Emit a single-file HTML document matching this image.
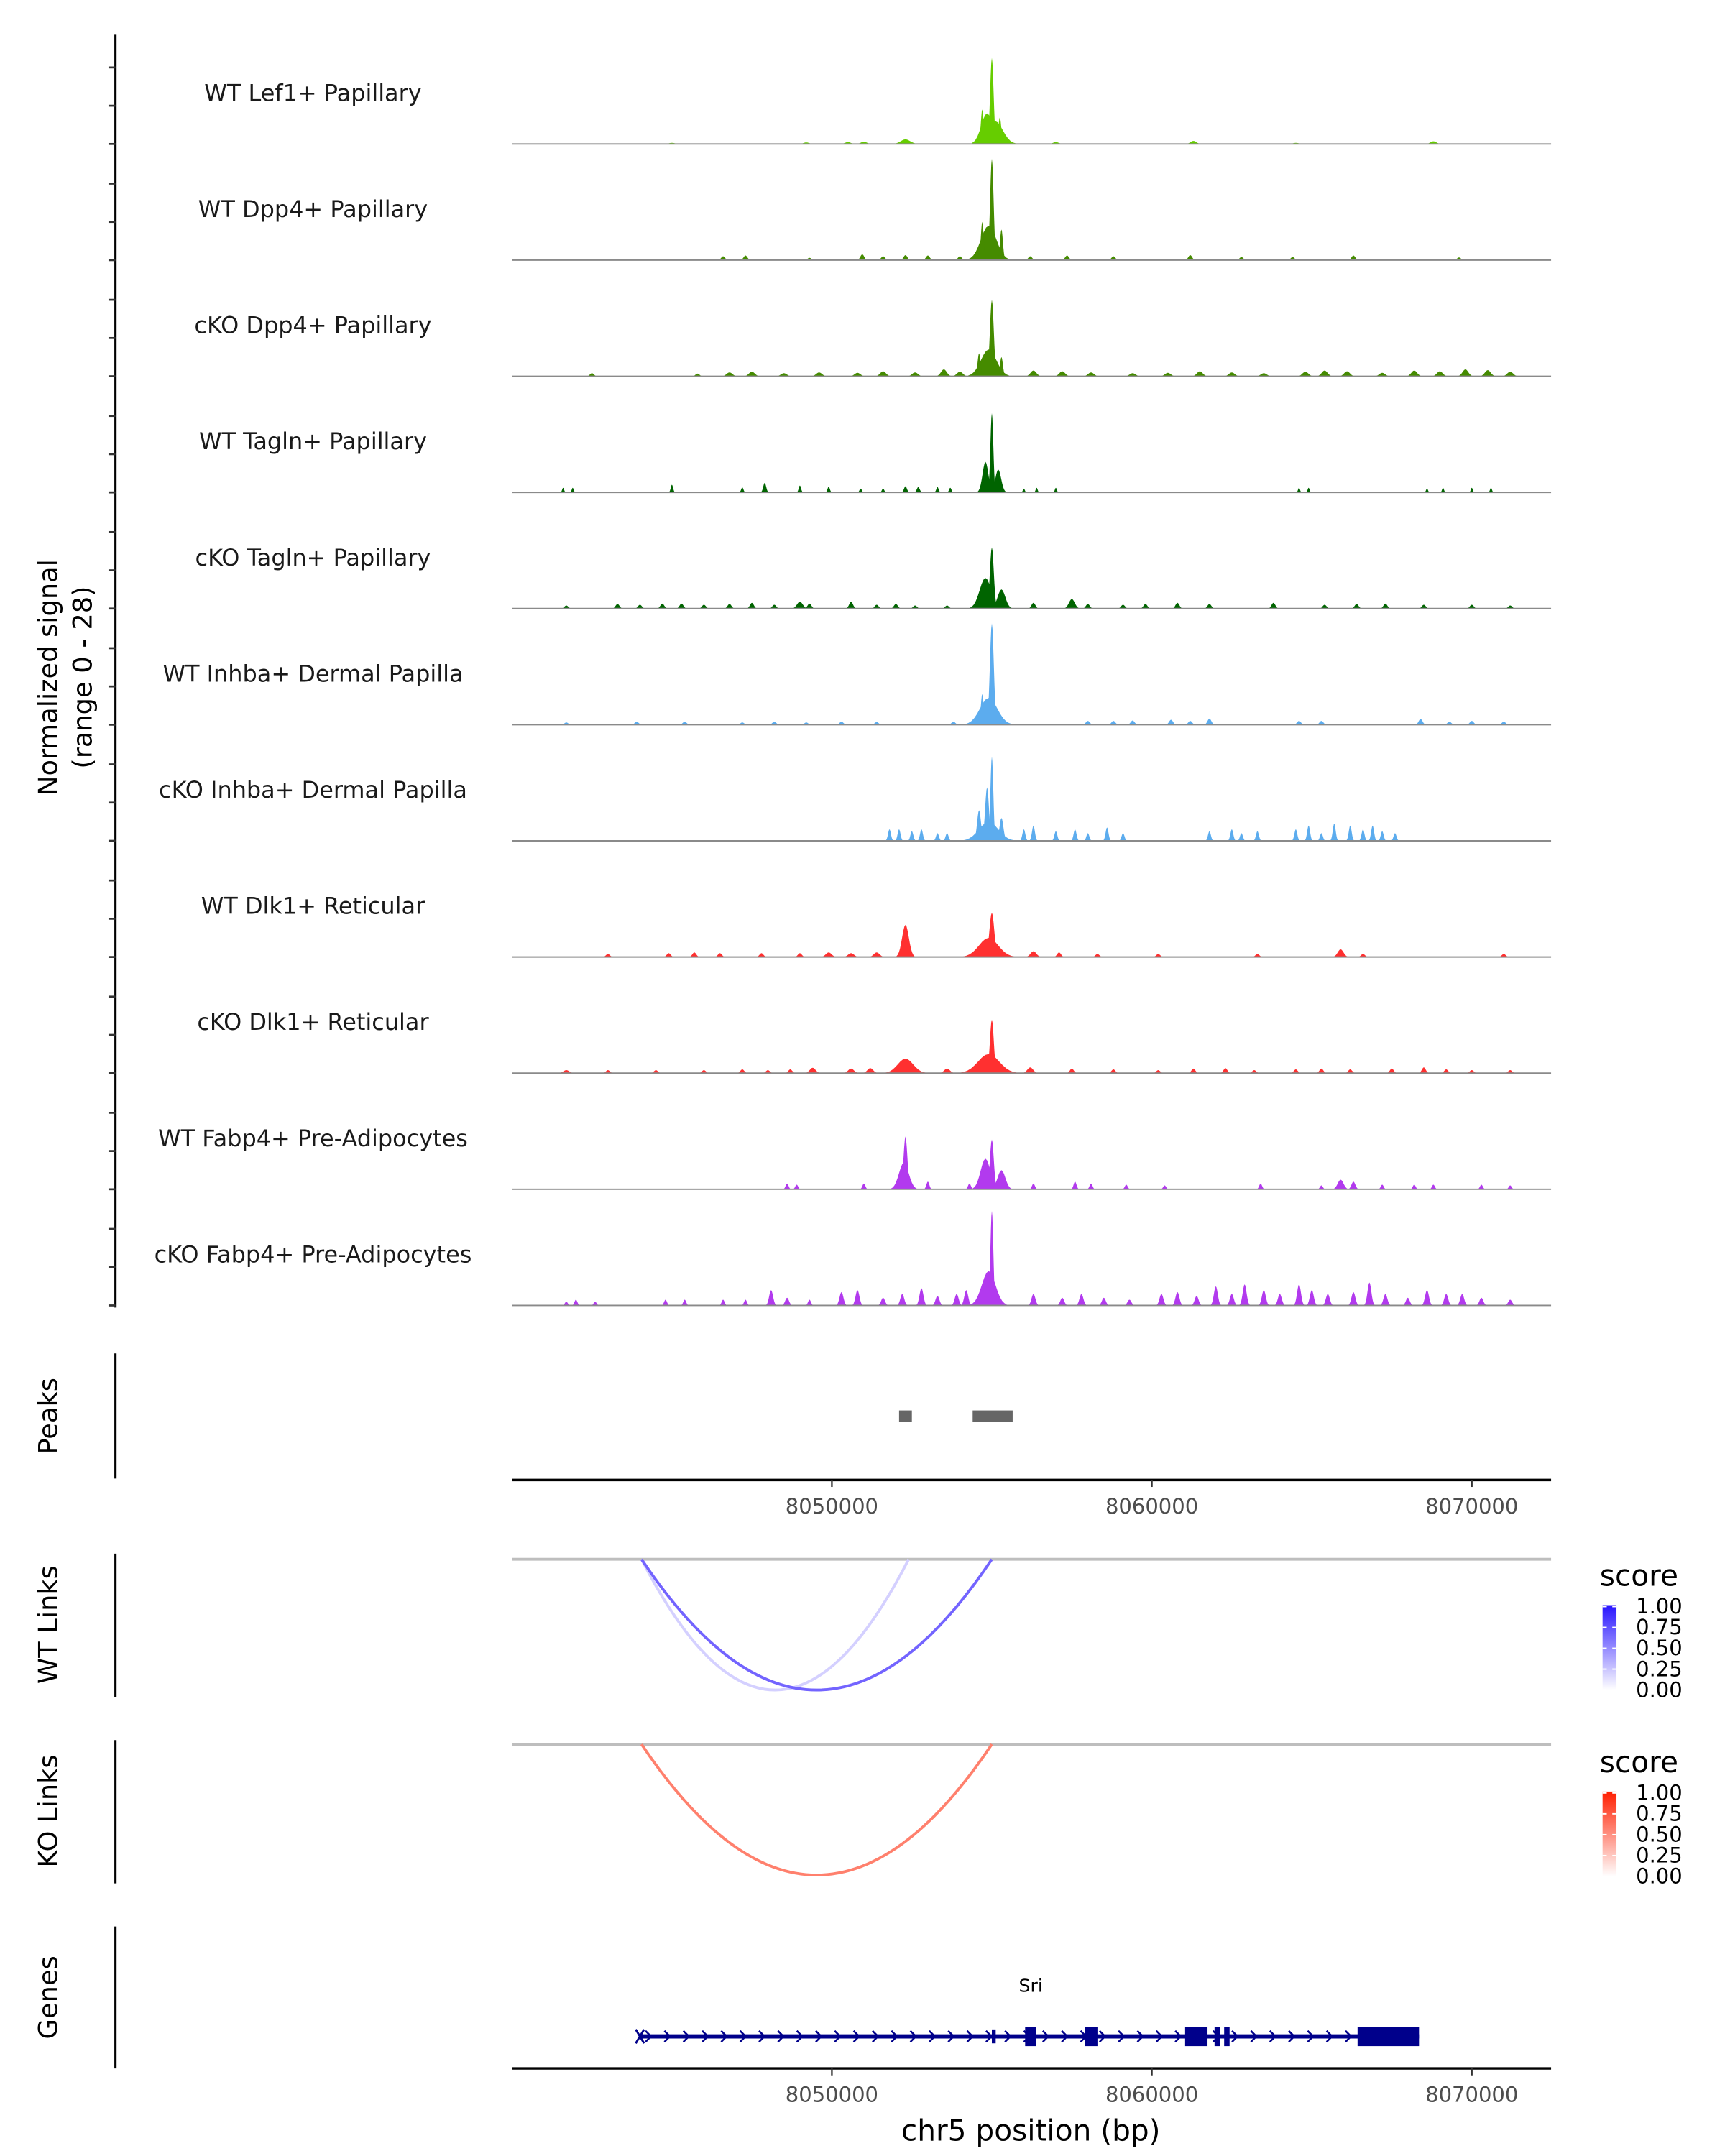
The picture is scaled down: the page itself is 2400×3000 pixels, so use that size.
<!DOCTYPE html>
<html><head><meta charset="utf-8">
<style>
html,body{margin:0;padding:0;background:#fff;}
svg{display:block;font-family:"DejaVu Sans","Liberation Sans",sans-serif;}
</style></head>
<body>
<svg id="chart" width="2400" height="3000" viewBox="0 0 1240 1550" xmlns="http://www.w3.org/2000/svg">
<rect width="1240" height="1550" fill="#fff"/>
</svg>
<script>
// ---------- data ----------
const trackNames = ["WT Lef1+ Papillary","WT Dpp4+ Papillary","cKO Dpp4+ Papillary","WT Tagln+ Papillary","cKO Tagln+ Papillary","WT Inhba+ Dermal Papilla","cKO Inhba+ Dermal Papilla","WT Dlk1+ Reticular","cKO Dlk1+ Reticular","WT Fabp4+ Pre-Adipocytes","cKO Fabp4+ Pre-Adipocytes"];
const trackColors = ["#66CD00","#458B00","#458B00","#006400","#006400","#5CACEE","#5CACEE","#FF3030","#FF3030","#B23AEE","#B23AEE"];
// peaks per track: [position kb (absolute /1000), height (signal units), width kb]
const sig0 = [[8055.0,22.5,0.18],[8054.85,8,0.6],[8055.1,6,0.8],[8054.7,9,0.15],[8055.25,7,0.15],[8052.3,1.2,0.5],[8051.0,0.6,0.3],[8061.3,0.8,0.3],[8068.8,0.7,0.3],[8049.2,0.4,0.3],[8050.5,0.5,0.3],[8057.0,0.5,0.3],[8045.0,0.3,0.3],[8064.5,0.3,0.3]];
const sig1 = [[8055.0,26.5,0.18],[8054.9,9,0.8],[8054.7,10,0.15],[8055.3,8,0.15],[8046.6,1,0.2],[8047.3,1.2,0.2],[8050.95,1.5,0.2],[8051.6,1,0.2],[8052.3,1.3,0.2],[8053.0,1.2,0.2],[8054.0,1,0.2],[8056.2,1,0.2],[8057.35,1.2,0.2],[8058.8,1,0.2],[8061.2,1.3,0.2],[8062.8,0.8,0.2],[8064.4,0.8,0.2],[8066.3,1.2,0.2],[8069.6,0.7,0.2],[8049.3,0.6,0.2]];
const sig2 = [[8055.0,20,0.2],[8054.9,7,0.8],[8054.6,6,0.15],[8055.3,5,0.15],[8042.5,0.8,0.2],[8045.8,0.7,0.2],[8046.8,1,0.3],[8047.5,1.2,0.3],[8048.5,0.8,0.3],[8049.6,1,0.3],[8050.8,0.9,0.3],[8051.6,1.3,0.3],[8052.6,1,0.3],[8053.5,1.8,0.3],[8054.0,1.2,0.3],[8056.3,1.5,0.3],[8057.2,1.3,0.3],[8058.1,1,0.3],[8059.4,0.8,0.3],[8060.5,0.9,0.3],[8061.5,1.3,0.3],[8062.5,1,0.3],[8063.5,0.8,0.3],[8064.8,1.2,0.3],[8065.4,1.5,0.3],[8066.1,1.3,0.3],[8067.2,0.9,0.3],[8068.2,1.5,0.3],[8069.0,1.3,0.3],[8069.8,1.8,0.3],[8070.5,1.6,0.3],[8071.2,1.2,0.3]];
const sig3 = [[8055.0,20.7,0.15],[8054.8,8,0.3],[8055.2,6,0.3],[8041.6,1.2,0.1],[8041.9,1.2,0.1],[8045.0,2,0.12],[8047.2,1.3,0.12],[8047.9,2.5,0.15],[8049.0,1.8,0.12],[8049.9,1.5,0.12],[8050.9,1,0.12],[8051.6,1,0.12],[8052.3,1.6,0.15],[8052.7,1.4,0.15],[8053.3,1.4,0.12],[8053.7,1.2,0.12],[8056.0,1,0.1],[8056.4,1.2,0.1],[8057.0,1.2,0.1],[8064.6,1.2,0.1],[8064.9,1.2,0.1],[8068.6,1,0.1],[8069.1,1.2,0.1],[8070.0,1.2,0.1],[8070.6,1.2,0.1]];
const sig4 = [[8055.0,16,0.2],[8054.8,8,0.6],[8055.3,5,0.4],[8041.7,0.8,0.2],[8043.3,1.2,0.2],[8044.0,1,0.2],[8044.7,1.3,0.2],[8045.3,1.3,0.2],[8046.0,1,0.2],[8046.8,1.2,0.2],[8047.5,1.5,0.2],[8048.2,1,0.2],[8049.0,1.8,0.3],[8049.3,1.3,0.2],[8050.6,1.8,0.2],[8051.4,1,0.2],[8052.0,1.2,0.2],[8052.6,0.8,0.2],[8053.6,0.8,0.2],[8056.3,1.5,0.2],[8057.5,2.5,0.3],[8058.0,1.2,0.2],[8059.1,1,0.2],[8059.8,1.2,0.2],[8060.8,1.5,0.2],[8061.8,1.2,0.2],[8063.8,1.5,0.2],[8065.4,1,0.2],[8066.4,1.2,0.2],[8067.3,1.3,0.2],[8068.5,1,0.2],[8070.0,1,0.2],[8071.2,0.8,0.2]];
const sig5 = [[8055.0,26.5,0.2],[8054.9,7,0.9],[8054.7,8,0.15],[8041.7,0.6,0.2],[8043.9,0.8,0.2],[8045.4,0.8,0.2],[8047.2,0.6,0.2],[8048.2,0.8,0.2],[8049.2,0.6,0.2],[8050.3,0.8,0.2],[8051.4,0.7,0.2],[8053.8,0.8,0.2],[8058.0,1,0.2],[8058.8,1,0.2],[8059.4,1.1,0.2],[8060.6,1.3,0.2],[8061.2,1,0.2],[8061.8,1.6,0.2],[8064.6,1,0.2],[8065.3,1,0.2],[8068.4,1.5,0.2],[8069.3,0.8,0.2],[8070.0,1,0.2],[8071.0,0.8,0.2]];
const sig6 = [[8055.0,22,0.15],[8054.85,14,0.2],[8054.6,8,0.2],[8055.3,6,0.2],[8054.9,5,1.0],[8051.8,3,0.15],[8052.1,3,0.15],[8052.5,2.5,0.15],[8052.8,3,0.15],[8053.3,2,0.15],[8053.6,2,0.15],[8056.0,3,0.15],[8056.3,4,0.15],[8057.0,2.5,0.15],[8057.6,3,0.15],[8058.0,2,0.15],[8058.6,3.5,0.15],[8059.1,2,0.15],[8061.8,2.5,0.15],[8062.5,3,0.15],[8062.8,2,0.15],[8063.3,2.5,0.15],[8064.5,3,0.15],[8064.9,4,0.15],[8065.3,2,0.15],[8065.7,4.5,0.15],[8066.2,4,0.15],[8066.6,3,0.15],[8066.9,4,0.15],[8067.2,2.5,0.15],[8067.6,2,0.15]];
const sig7 = [[8052.3,8.4,0.35],[8055.0,11.6,0.25],[8054.9,5,1.0],[8043.0,0.8,0.2],[8044.9,1,0.2],[8045.7,1.2,0.2],[8046.5,1,0.2],[8047.8,1,0.2],[8049.0,1,0.2],[8049.9,1.2,0.3],[8050.6,1,0.3],[8051.4,1.2,0.3],[8056.3,1.5,0.3],[8057.1,1.2,0.2],[8058.3,0.8,0.2],[8060.2,0.8,0.2],[8063.3,0.8,0.2],[8065.9,2,0.3],[8066.6,0.8,0.2],[8071.0,0.8,0.2]];
const sig8 = [[8055.0,14,0.2],[8054.9,5,1.1],[8052.3,3.8,0.8],[8041.7,0.8,0.3],[8043.0,0.8,0.2],[8044.5,0.8,0.2],[8046.0,0.8,0.2],[8047.2,1,0.2],[8048.0,0.8,0.2],[8048.7,1,0.2],[8049.4,1.4,0.3],[8050.6,1.2,0.3],[8051.2,1.3,0.3],[8053.6,1.2,0.3],[8056.2,1.5,0.3],[8057.5,1.2,0.2],[8058.8,1,0.2],[8060.2,0.8,0.2],[8061.3,1.2,0.2],[8062.3,1.3,0.2],[8063.2,0.8,0.2],[8064.5,1,0.2],[8065.3,1.2,0.2],[8066.2,1,0.2],[8067.5,1.2,0.2],[8068.5,1.5,0.2],[8069.2,1,0.2],[8070.0,0.8,0.2],[8071.2,0.8,0.2]];
const sig9 = [[8052.3,13.8,0.2],[8052.25,7,0.5],[8055.0,13,0.2],[8054.8,8,0.5],[8055.3,5,0.4],[8048.6,1.5,0.15],[8048.9,1.2,0.15],[8051.0,1.5,0.15],[8053.0,2,0.15],[8054.3,1.5,0.15],[8056.3,1.5,0.15],[8057.6,2,0.15],[8058.1,1.5,0.15],[8059.2,1.2,0.15],[8060.4,1,0.15],[8063.4,1.5,0.15],[8065.3,1,0.15],[8065.9,2.5,0.3],[8066.3,2,0.2],[8067.2,1.2,0.15],[8068.2,1.2,0.15],[8068.8,1.2,0.15],[8070.3,1.2,0.15],[8071.2,1,0.15]];
const sig10 = [[8055.0,24.7,0.15],[8054.9,9,0.7],[8041.7,1,0.15],[8042.0,1.5,0.15],[8042.6,1,0.15],[8044.8,1.5,0.15],[8045.4,1.5,0.15],[8046.6,1.5,0.15],[8047.3,1.5,0.15],[8048.1,4,0.2],[8048.6,2,0.2],[8049.3,1.5,0.15],[8050.3,3.5,0.2],[8050.8,4,0.2],[8051.6,2,0.2],[8052.2,3,0.2],[8052.8,4.5,0.2],[8053.3,2.5,0.2],[8053.9,3,0.2],[8054.2,4,0.2],[8056.3,3,0.2],[8057.2,2,0.2],[8057.8,3,0.2],[8058.5,2,0.2],[8059.3,1.5,0.2],[8060.3,3,0.2],[8060.8,3.5,0.2],[8061.4,2.5,0.2],[8062.0,5,0.2],[8062.5,3,0.2],[8062.9,5.5,0.2],[8063.5,4,0.2],[8064.0,3,0.2],[8064.6,5.5,0.2],[8065.0,4,0.2],[8065.5,3,0.2],[8066.3,3.5,0.2],[8066.8,6,0.2],[8067.3,3,0.2],[8068.0,2,0.2],[8068.6,4,0.2],[8069.2,3,0.2],[8069.7,3,0.2],[8070.3,2,0.2],[8071.2,1.5,0.2]];
const signals = [sig0,sig1,sig2,sig3,sig4,sig5,sig6,sig7,sig8,sig9,sig10];
const axisTicks = [8050000,8060000,8070000];
const axisTickLabels = ["8050000","8060000","8070000"];
const peakRegions = [[8052100,8052500],[8054400,8055650]];
const wtLinkStart = [8044050,8044050];
const wtLinkEnd = [8052400,8055000];
const wtLinkScore = [0.22,0.72];
const koLinkStart = [8044050];
const koLinkEnd = [8055000];
const koLinkScore = [0.62];
const geneStart = 8044000, geneEnd = 8068350;
const exonStart = [8055000,8056040,8057910,8061040,8061960,8062260,8066430];
const exonEnd   = [8055120,8056390,8058300,8061740,8062130,8062430,8068350];
const exonThick = [0,1,1,1,1,1,1];
const legendTicks = [1.00,0.75,0.50,0.25,0.00];

// ---------- drawing ----------
const NS="http://www.w3.org/2000/svg";
const svg=document.getElementById('chart');
function el(tag,attrs,parent){const e=document.createElementNS(NS,tag);for(const k in attrs)e.setAttribute(k,attrs[k]);(parent||svg).appendChild(e);return e;}
const X0=368,X1=1115,G0=8040000,PXKB=23;
function xs(bp){return X0+(bp-G0)/1000*PXKB;}
const BASE0=103.5,TRK=83.5,YSCALE=77/28;
function ys(v,base){return base-v*YSCALE;}

const la=el('line',{x1:83,y1:25,x2:83,y2:940,stroke:'#000','stroke-width':1.6});


for(let t=0;t<trackNames.length;t++){
  const base=BASE0+t*TRK;
  [0,10,20].forEach(v=>{
    const tk=el('line',{x1:78,x2:83,y1:ys(v,base),y2:ys(v,base),stroke:'#333','stroke-width':1.4});
    
    
  });
}
const yt=el('text',{transform:'translate(41,487) rotate(-90)','text-anchor':'middle','font-size':19,fill:'#000'});
yt.textContent='Normalized signal';


const yt2=el('text',{transform:'translate(66,487) rotate(-90)','text-anchor':'middle','font-size':19,fill:'#000'});
yt2.textContent='(range 0 - 28)';



function bumpPath(p,h,w,base){
  const half=w*1000/2;
  let d='M'+xs(p*1000-half*1.6)+','+base;
  for(let i=-8;i<=8;i++){
    const off=i/8*half*1.6;
    const v=h*Math.exp(-Math.pow(off/(half*0.6),2)/2);
    d+=' L'+xs(p*1000+off).toFixed(2)+','+ys(v,base).toFixed(2);
  }
  d+=' L'+xs(p*1000+half*1.6)+','+base+' Z';
  return d;
}
for(let t=0;t<trackNames.length;t++){
  const base=BASE0+t*TRK;
  const g=el('g',{});
  
  
  const lbl=el('text',{x:225,y:base-31,'text-anchor':'middle','font-size':16.5,fill:'#1a1a1a'},g);
  lbl.textContent=trackNames[t];
  
  
  signals[t].forEach(s=>{
    const p=el('path',{d:bumpPath(s[0],s[1],s[2],base),fill:trackColors[t]},g);
    
    
  });
  const bl=el('line',{x1:X0,x2:X1,y1:base,y2:base,stroke:'#8a8a8a','stroke-width':1},g);
  
  
}

function sideLabel(txt,y,y1,y2,name){
  const t=el('text',{transform:'translate(41,'+y+') rotate(-90)','text-anchor':'middle','font-size':19,fill:'#000'});
  t.textContent=txt;
  
  
  const l=el('line',{x1:83,x2:83,y1:y1,y2:y2,stroke:'#000','stroke-width':1.6});
  
  
}
sideLabel('Peaks',1018,973,1063,'peaks');
sideLabel('WT Links',1168,1117,1220,'wt-links');
sideLabel('KO Links',1302,1251,1354,'ko-links');
sideLabel('Genes',1436,1385,1487,'genes');

peakRegions.forEach(r=>{
  const p=el('rect',{x:xs(r[0]),y:1014,width:xs(r[1])-xs(r[0]),height:8,fill:'#666'});
  
  
});
function xAxis(y,name){
  const a=el('line',{x1:X0,x2:X1,y1:y,y2:y,stroke:'#000','stroke-width':1.8});
  
  
  axisTicks.forEach((v,i)=>{
    const tk=el('line',{x1:xs(v),x2:xs(v),y1:y,y2:y+5,stroke:'#333','stroke-width':1.2});
    
    
    const tl=el('text',{x:xs(v),y:y+24,'text-anchor':'middle','font-size':15,fill:'#4d4d4d'});
    tl.textContent=axisTickLabels[i];
    
    
  });
}
xAxis(1064,'peaks-x-axis');

function mix(c,s){return 'rgb('+[0,1,2].map(i=>Math.round(255+(c[i]-255)*s)).join(',')+')';}
function links(starts,ends,scores,y0,col,name){
  const gl=el('line',{x1:X0,x2:X1,y1:y0,y2:y0,stroke:'#bebebe','stroke-width':2});
  
  
  const order=scores.map((s,i)=>i).sort((a,b)=>scores[a]-scores[b]);
  order.forEach(i=>{
    const a=xs(starts[i]),b=xs(ends[i]),d=94;
    const p=el('path',{d:'M'+a+','+y0+' Q'+((a+b)/2)+','+(y0+2*d)+' '+b+','+y0,fill:'none',stroke:mix(col,scores[i]),'stroke-width':2});
    
    
  });
}
links(wtLinkStart,wtLinkEnd,wtLinkScore,1121,[60,40,255],'wt-link');
links(koLinkStart,koLinkEnd,koLinkScore,1254,[255,50,20],'ko-link');

function legend(y,col,id,name){
  const t=el('text',{x:1150,y:y,'font-size':21,fill:'#000'});
  t.textContent='score';
  
  
  const defs=el('defs',{});
  const lg=el('linearGradient',{id:id,x1:0,y1:1,x2:0,y2:0},defs);
  el('stop',{offset:0,'stop-color':'#fff'},lg);
  el('stop',{offset:1,'stop-color':'rgb('+col.join(',')+')'},lg);
  const r=el('rect',{x:1152,y:y+14,width:10,height:61,fill:'url(#'+id+')'});
  
  
  legendTicks.forEach((v,i)=>{
    const ty=y+15+(1-v)*60;
    el('line',{x1:1152,x2:1155,y1:ty,y2:ty,stroke:'#fff','stroke-width':1});
    el('line',{x1:1159,x2:1162,y1:ty,y2:ty,stroke:'#fff','stroke-width':1});
    const l=el('text',{x:1176,y:ty+5,'font-size':15,fill:'#000'});
    l.textContent=v.toFixed(2);
    
    
  });
}
legend(1140,[40,20,255],'gwt','wt-legend');
legend(1274,[255,30,0],'gko','ko-legend');

const gy=1464;
const gl=el('line',{x1:xs(geneStart),x2:xs(geneEnd),y1:gy,y2:gy,stroke:'#00008B','stroke-width':3});


for(let x=xs(geneStart)+6;x<xs(geneEnd)-40;x+=13.6){
  const c=el('path',{d:'M'+(x-2)+','+(gy-4)+' L'+(x+2)+','+gy+' L'+(x-2)+','+(gy+4),fill:'none',stroke:'#00008B','stroke-width':1.3});
  
  
}
el('path',{d:'M'+(xs(geneStart)-3)+','+(gy-5)+' L'+(xs(geneStart)+3)+','+(gy+5)+' M'+(xs(geneStart)+3)+','+(gy-5)+' L'+(xs(geneStart)-3)+','+(gy+5),stroke:'#00008B','stroke-width':1.5});
exonStart.forEach((s,i)=>{
  const h=exonThick[i]?14:10;
  const r=el('rect',{x:xs(s),y:gy-h/2,width:Math.max(1.5,xs(exonEnd[i])-xs(s)),height:h,fill:'#00008B'});
  
  
});
const gn=el('text',{x:741,y:1432,'text-anchor':'middle','font-size':13,fill:'#000'});
gn.textContent='Sri';


xAxis(1487,'genes-x-axis');
const xt=el('text',{x:741,y:1539,'text-anchor':'middle','font-size':21,fill:'#000'});
xt.textContent='chr5 position (bp)';


</script>
</body></html>
